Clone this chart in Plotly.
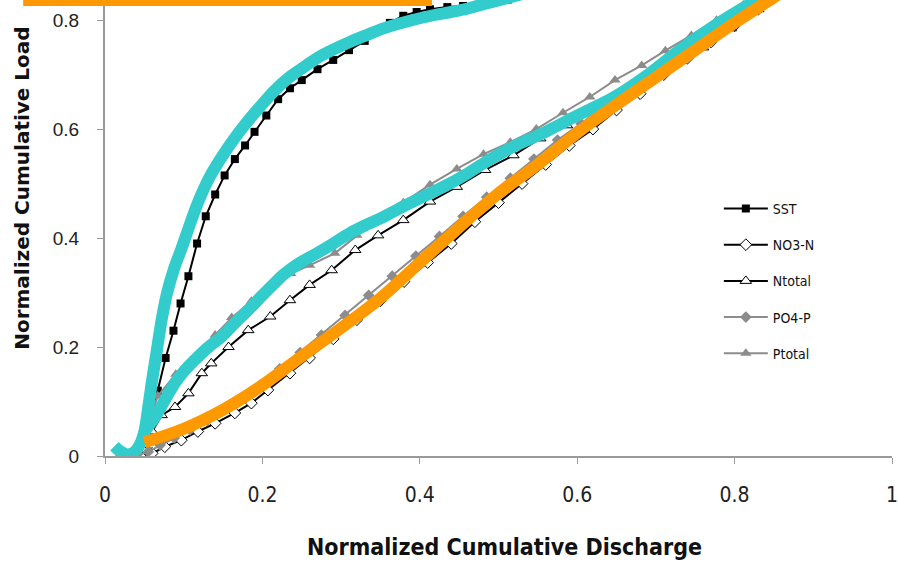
import plotly.graph_objects as go

# ---- data ----
sst_x = [0.02, 0.035, 0.05, 0.06, 0.067, 0.077, 0.087, 0.096, 0.106, 0.117, 0.128, 0.14, 0.152, 0.165,
         0.178, 0.19, 0.205, 0.22, 0.235, 0.25, 0.27, 0.29, 0.31, 0.33, 0.346, 0.362, 0.379, 0.396,
         0.413, 0.435, 0.455, 0.485, 0.512, 0.56, 0.6, 0.7, 0.8, 0.9, 1.0]
sst_y = [0.0, 0.005, 0.04, 0.08, 0.12, 0.18, 0.23, 0.28, 0.33, 0.39, 0.44, 0.48, 0.515, 0.545,
         0.57, 0.595, 0.625, 0.655, 0.675, 0.69, 0.71, 0.727, 0.745, 0.762, 0.78, 0.795, 0.808, 0.815,
         0.82, 0.824, 0.826, 0.832, 0.838, 0.85, 0.86, 0.9, 0.935, 0.97, 1.0]

no3_x = [0.03, 0.045, 0.06, 0.076, 0.097, 0.118, 0.14, 0.165, 0.186, 0.207, 0.235, 0.26, 0.29, 0.32,
         0.35, 0.38, 0.41, 0.44, 0.47, 0.5, 0.53, 0.56, 0.59, 0.62, 0.65, 0.68, 0.71, 0.74, 0.77,
         0.8, 0.83, 0.86, 0.9, 0.95, 1.0]
no3_y = [0.0, 0.0, 0.005, 0.017, 0.029, 0.045, 0.06, 0.079, 0.097, 0.121, 0.152, 0.18, 0.215, 0.25,
         0.285, 0.32, 0.355, 0.39, 0.43, 0.465, 0.5, 0.535, 0.57, 0.6, 0.635, 0.665, 0.7, 0.73, 0.76,
         0.79, 0.82, 0.85, 0.89, 0.94, 1.0]

ntot_x = [0.03, 0.05, 0.06, 0.072, 0.089, 0.106, 0.123, 0.135, 0.157, 0.182, 0.21, 0.235, 0.26, 0.288,
          0.318, 0.347, 0.379, 0.413, 0.447, 0.483, 0.519, 0.553, 0.587, 0.62, 0.655, 0.69, 0.725,
          0.76, 0.795, 0.83, 0.865, 0.9, 0.95, 1.0]
ntot_y = [0.0, 0.02, 0.045, 0.075, 0.09, 0.115, 0.152, 0.17, 0.2, 0.231, 0.256, 0.286, 0.314, 0.341,
          0.378, 0.405, 0.433, 0.467, 0.494, 0.525, 0.552, 0.583, 0.607, 0.632, 0.66, 0.69, 0.72,
          0.75, 0.785, 0.82, 0.855, 0.89, 0.94, 1.0]

po4_x = [0.02, 0.04, 0.055, 0.07, 0.088, 0.108, 0.13, 0.152, 0.175, 0.197, 0.222, 0.248, 0.275, 0.305,
         0.335, 0.365, 0.395, 0.425, 0.455, 0.485, 0.515, 0.545, 0.575, 0.605, 0.635, 0.665, 0.695,
         0.725, 0.755, 0.785, 0.815, 0.845, 0.88, 0.93, 1.0]
po4_y = [0.0, 0.0, 0.008, 0.02, 0.033, 0.048, 0.065, 0.085, 0.107, 0.13, 0.16, 0.19, 0.222, 0.258,
         0.295, 0.33, 0.367, 0.403, 0.44, 0.475, 0.51, 0.545, 0.58, 0.61, 0.645, 0.675, 0.708,
         0.738, 0.768, 0.798, 0.828, 0.858, 0.89, 0.94, 1.0]

ptot_x = [0.02, 0.04, 0.055, 0.067, 0.09, 0.114, 0.14, 0.161, 0.186, 0.212, 0.236, 0.26, 0.292, 0.32,
          0.349, 0.379, 0.413, 0.447, 0.481, 0.515, 0.548, 0.582, 0.616, 0.648, 0.682, 0.712, 0.745,
          0.777, 0.811, 0.85, 0.9, 0.95, 1.0]
ptot_y = [0.0, 0.01, 0.06, 0.11, 0.15, 0.182, 0.222, 0.254, 0.284, 0.314, 0.335, 0.35, 0.372, 0.405,
          0.438, 0.465, 0.498, 0.527, 0.554, 0.576, 0.6, 0.63, 0.659, 0.69, 0.717, 0.744, 0.772,
          0.8, 0.828, 0.862, 0.905, 0.95, 1.0]

# hand-drawn overlay curves
cyan1_x = [0.012, 0.02, 0.028, 0.036, 0.044, 0.05, 0.055, 0.06, 0.066, 0.072, 0.079, 0.088, 0.097,
           0.104, 0.118, 0.133, 0.148, 0.163, 0.18, 0.197, 0.215, 0.235, 0.255, 0.269, 0.29, 0.311,
           0.333, 0.354, 0.385, 0.417, 0.44, 0.46, 0.48, 0.502, 0.53]
cyan1_y = [0.018, 0.008, 0.003, 0.006, 0.02, 0.045, 0.09, 0.14, 0.195, 0.25, 0.3, 0.345, 0.38,
           0.409, 0.465, 0.512, 0.548, 0.58, 0.612, 0.641, 0.67, 0.696, 0.716, 0.73, 0.746, 0.76,
           0.773, 0.785, 0.798, 0.809, 0.815, 0.821, 0.829, 0.837, 0.848]

cyan2_x = [0.05, 0.064, 0.075, 0.089, 0.1, 0.114, 0.13, 0.148, 0.165, 0.182, 0.2, 0.216, 0.226, 0.247,
           0.269, 0.29, 0.311, 0.333, 0.354, 0.375, 0.396, 0.417, 0.438, 0.46, 0.481, 0.515, 0.561,
           0.6, 0.646, 0.69, 0.73, 0.78, 0.828, 0.86]
cyan2_y = [0.045, 0.072, 0.1, 0.134, 0.155, 0.176, 0.198, 0.219, 0.244, 0.268, 0.295, 0.318, 0.332,
           0.354, 0.372, 0.39, 0.409, 0.425, 0.439, 0.455, 0.47, 0.485, 0.5, 0.518, 0.537, 0.565,
           0.596, 0.625, 0.658, 0.7, 0.745, 0.795, 0.837, 0.865]

orange_x = [0.05, 0.1, 0.15, 0.2, 0.25, 0.3, 0.35, 0.4, 0.45, 0.5, 0.55, 0.6, 0.65, 0.7, 0.75, 0.8,
            0.85, 0.9]
orange_y = [0.025, 0.05, 0.085, 0.13, 0.183, 0.235, 0.29, 0.355, 0.42, 0.482, 0.535, 0.593, 0.645,
            0.695, 0.745, 0.795, 0.842, 0.89]

x_ticks = [0, 0.2, 0.4, 0.6, 0.8, 1]
x_tick_text = ["0", "0.2", "0.4", "0.6", "0.8", "1"]
y_ticks = [0, 0.2, 0.4, 0.6, 0.8]
y_tick_text = ["0", "0.2", "0.4", "0.6", "0.8"]

GRAY = "#8c8c8c"
AXIS_GRAY = "#9a9a9a"
CYAN = "#33CCCC"
ORANGE = "#FF9900"
NARROW = "DejaVu Sans Condensed, Liberation Sans Narrow, Liberation Sans"

fig = go.Figure()

series = [
    ("SST", sst_x, sst_y, "black", dict(symbol="square", size=8, color="black")),
    ("NO3-N", no3_x, no3_y, "black", dict(symbol="diamond", size=9, color="white",
                                         line=dict(color="black", width=1))),
    ("Ntotal", ntot_x, ntot_y, "black", dict(symbol="triangle-up", size=10, color="white",
                                            line=dict(color="black", width=1))),
    ("PO4-P", po4_x, po4_y, GRAY, dict(symbol="diamond", size=9, color=GRAY)),
    ("Ptotal", ptot_x, ptot_y, GRAY, dict(symbol="triangle-up", size=10, color=GRAY)),
]
for name, xs, ys, lc, mk in series:
    fig.add_trace(go.Scatter(x=xs, y=ys, mode="lines+markers", name=name,
                             legendgroup=name,
                             line=dict(color=lc, width=2), marker=mk))

for xs, ys, col in [(cyan1_x, cyan1_y, CYAN), (cyan2_x, cyan2_y, CYAN), (orange_x, orange_y, ORANGE)]:
    fig.add_trace(go.Scatter(x=xs, y=ys, mode="lines", showlegend=False, hoverinfo="skip",
                             line=dict(color=col, width=12, shape="spline")))

axis_common = dict(showgrid=False, zeroline=False, showline=True, linecolor=AXIS_GRAY, linewidth=2,
                   ticks="outside", tickcolor=AXIS_GRAY, ticklen=6, tickwidth=1)

fig.update_layout(
    width=898, height=565,
    margin=dict(l=105, r=6, t=0, b=109),
    paper_bgcolor="white", plot_bgcolor="white",
    xaxis=dict(range=[0, 1], tickvals=x_ticks, ticktext=x_tick_text,
               tickfont=dict(family=NARROW, size=21, color="#222"),
               ticklabelstandoff=13, ticklabeloverflow="allow", **axis_common),
    yaxis=dict(range=[0, 0.837], tickvals=y_ticks, ticktext=y_tick_text,
               tickfont=dict(family="Liberation Sans, Arial", size=19, color="#222"),
               ticklabelstandoff=14, **axis_common),
    legend=dict(x=0.78, y=0.577, xanchor="left", yanchor="top", bgcolor="rgba(0,0,0,0)",
                font=dict(family=NARROW, size=14, color="#111"),
                tracegroupgap=15, itemwidth=44),
    showlegend=True,
    annotations=[
        dict(text="<b>Normalized Cumulative Discharge</b>", xref="paper", yref="paper",
             x=0.508, y=-0.2, showarrow=False, xanchor="center", yanchor="middle",
             font=dict(family=NARROW, size=23, color="#111")),
        dict(text="<b>Normalized Cumulative Load</b>", xref="paper", yref="paper",
             x=-0.1055, y=0.588, showarrow=False, xanchor="center", yanchor="middle", textangle=-90,
             font=dict(family="DejaVu Sans, Liberation Sans", size=20, color="#111")),
    ],
    shapes=[
        dict(type="rect", xref="paper", yref="paper", x0=-0.104, x1=0.4155, y0=0.987, y1=1.01,
             fillcolor=ORANGE, line=dict(width=0), layer="above"),
    ],
)

fig.write_html("out.html")
